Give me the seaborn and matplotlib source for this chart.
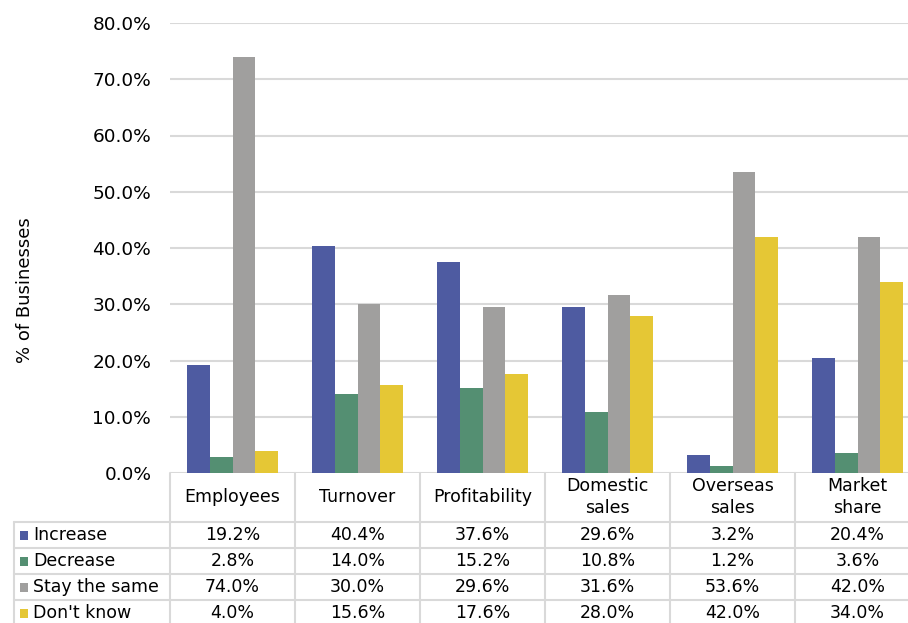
import matplotlib
matplotlib.use("Agg")
import matplotlib.pyplot as plt
import seaborn as sns
import pandas as pd
from matplotlib.lines import Line2D
from matplotlib.patches import Rectangle
import matplotlib.transforms as mtransforms

categories = ["Employees", "Turnover", "Profitability", "Domestic\nsales", "Overseas\nsales", "Market\nshare"]
series = ["Increase", "Decrease", "Stay the same", "Don't know"]
increase = [19.2, 40.4, 37.6, 29.6, 3.2, 20.4]
decrease = [2.8, 14.0, 15.2, 10.8, 1.2, 3.6]
stay_same = [74.0, 30.0, 29.6, 31.6, 53.6, 42.0]
dont_know = [4.0, 15.6, 17.6, 28.0, 42.0, 34.0]
yticks = [0, 10, 20, 30, 40, 50, 60, 70, 80]
colors = ["#4E5BA1", "#548F72", "#A09F9E", "#E5C735"]

values = [increase, decrease, stay_same, dont_know]
rows = []
for s, vals in zip(series, values):
    for c, v in zip(categories, vals):
        rows.append({"Category": c, "Series": s, "Value": v})
df = pd.DataFrame(rows)

W, H = 908, 623
sns.set_style("white")
plt.rcParams["font.family"] = ["DejaVu Sans"]
plt.rcParams["text.color"] = "black"
plt.rcParams["ytick.color"] = "black"
plt.rcParams["ytick.labelcolor"] = "black"
fig = plt.figure(figsize=(W / 100, H / 100), dpi=100)

def fx(x):
    return x / W

def fy(y):
    return 1 - y / H

ax = fig.add_axes([fx(170), fy(473), fx(920) - fx(170), fy(23) - fy(473)])
sns.barplot(data=df, x="Category", y="Value", hue="Series", palette=colors,
            order=categories, hue_order=series, width=0.73, gap=0,
            ax=ax, legend=False, linewidth=0, saturation=1)
ax.set_ylim(0, 80)
ax.set_xlim(-0.5, len(categories) - 0.5)
ax.set_yticks(yticks)
ax.set_yticklabels([f"{t:.1f}%" for t in yticks], fontsize=13.3, color="black")
ax.tick_params(axis="y", length=0, pad=13.5)
ax.set_xticks([])
ax.set_xlabel("")
ax.set_ylabel("")
for sp in ax.spines.values():
    sp.set_visible(False)
ax.yaxis.grid(True, color="#D9D9D9", linewidth=1.5)
ax.set_axisbelow(True)

fig.text(fx(25), fy(290), "% of Businesses", rotation=90, ha="center", va="center", fontsize=13, color="black")

# table
lc = "#D9D9D9"
lw = 1.5
tr_x = mtransforms.blended_transform_factory(ax.transData, fig.transFigure)
row_tops = [522, 548, 574, 600, 626]
for i in range(len(categories) + 1):
    fig.add_artist(Line2D([i - 0.5, i - 0.5], [fy(473), fy(626)], transform=tr_x, color=lc, lw=lw))
fig.add_artist(Line2D([fx(14), fx(14)], [fy(522), fy(626)], transform=fig.transFigure, color=lc, lw=lw))
for y in row_tops:
    fig.add_artist(Line2D([fx(14), 1.2], [fy(y), fy(y)], transform=fig.transFigure, color=lc, lw=lw))

for i, c in enumerate(categories):
    fig.text(i, fy(497), c, transform=tr_x, ha="center", va="center", fontsize=12.5,
             linespacing=1.35, color="black")

for r, (s, vals) in enumerate(zip(series, values)):
    ymid = (row_tops[r] + row_tops[r + 1]) / 2
    fig.add_artist(Rectangle((fx(20), fy(ymid + 4.5)), fx(8), fy(ymid - 4.5) - fy(ymid + 4.5),
                             transform=fig.transFigure, color=colors[r], lw=0))
    fig.text(fx(33), fy(ymid), s, ha="left", va="center", fontsize=12.5, color="black")
    for i, v in enumerate(vals):
        fig.text(i, fy(ymid), f"{v:.1f}%", transform=tr_x, ha="center", va="center",
                 fontsize=12.5, color="black")

fig.savefig("out.png", dpi=100)
